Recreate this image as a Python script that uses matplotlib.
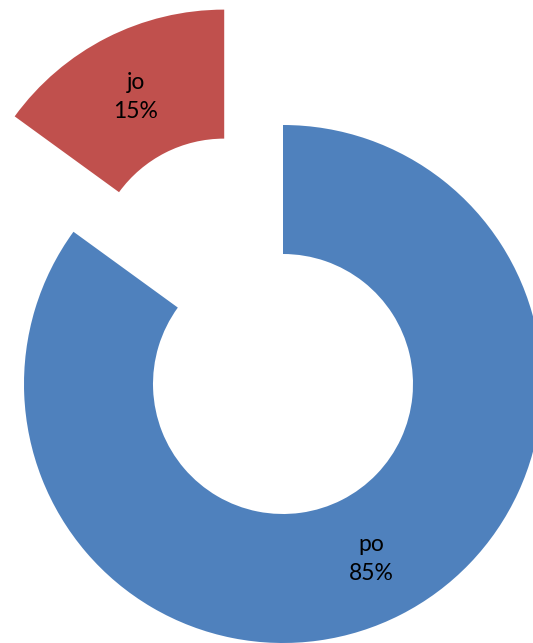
import numpy as np
import matplotlib
matplotlib.use("Agg")
import matplotlib.pyplot as plt

categories = ["po", "jo"]
shares = [85, 15]
colors = ["#4F81BD", "#C0504D"]

W, H = 533, 643
radius = 259
ring = 129
# offset of each slice from the centre, in the same units as the radius
explode = [0.0, 0.5 * radius]

fig = plt.figure(figsize=(W / 100, H / 100), dpi=100)
ax = fig.add_axes([0, 0, 1, 1])

wedges, _ = ax.pie(
    shares,
    colors=colors,
    explode=explode,
    startangle=90,
    counterclock=False,
    radius=radius,
    center=(283, H - 384),
    wedgeprops=dict(width=ring, linewidth=0),
    frame=True,
)
ax.set_xlim(0, W)
ax.set_ylim(0, H)
ax.set_aspect("equal")
ax.axis("off")

for w, name, val in zip(wedges, categories, shares):
    mid = np.deg2rad((w.theta1 + w.theta2) / 2)
    rr = w.r - w.width / 2
    cx, cy = w.center
    ax.text(cx + rr * np.cos(mid), cy + rr * np.sin(mid) - 2,
            f"{name}\n{val}%", ha="center", va="center",
            fontsize=16.5, family="Lato", linespacing=1.45, color="black")

fig.savefig("out.png", dpi=100)
